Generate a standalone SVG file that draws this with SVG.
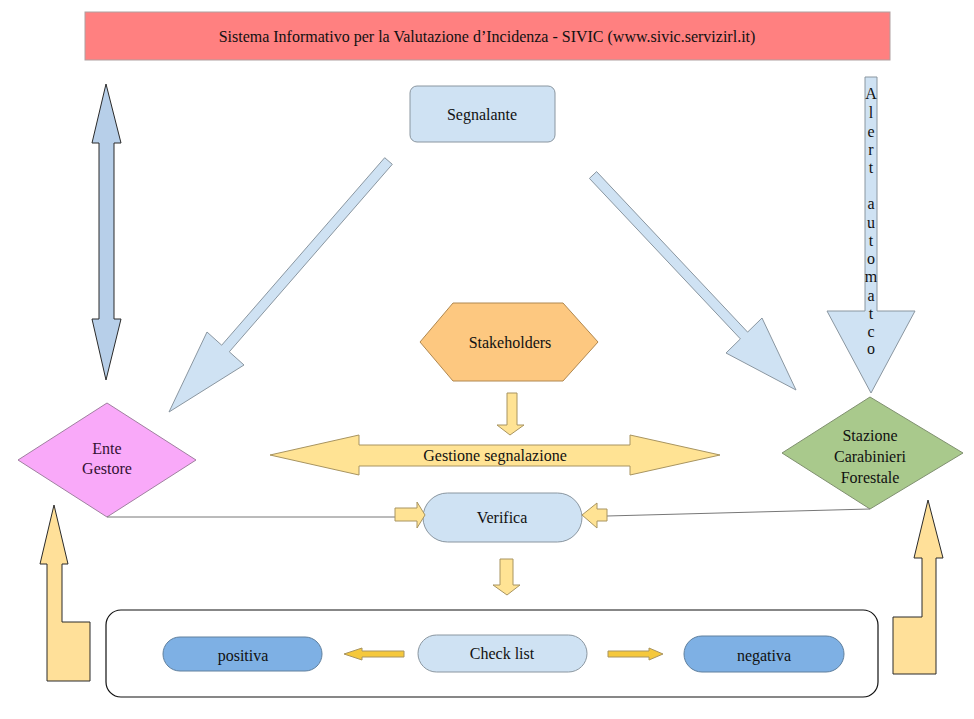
<svg xmlns="http://www.w3.org/2000/svg" width="974" height="719" viewBox="0 0 974 719">
<style>
text{font-family:'Liberation Serif','DejaVu Serif','Times New Roman',serif;font-size:16px;fill:#111;text-anchor:middle;dominant-baseline:central}
.lb{fill:#cfe2f3;stroke:#8a96a0;stroke-width:1}
.dk{fill:#b7cfe9;stroke:#2a2a2a;stroke-width:1}
.yl{fill:#ffe394;stroke:#a89460;stroke-width:1}
.yd{fill:#ffe099;stroke:#2a2a2a;stroke-width:1}
.ys{fill:#f5c83c;stroke:#a89460;stroke-width:1}
.mb{fill:#7eb0e4;stroke:#60809e;stroke-width:1}
.ln{fill:none;stroke:#777;stroke-width:1}
</style>
<rect width="974" height="719" fill="#fff"/>
<g id="banner">
<rect x="85" y="12" width="805" height="48" fill="#ff8080" stroke="#b0a0a0"/>
<text x="487" y="36" font-family="Liberation Serif, serif">Sistema Informativo per la Valutazione d’Incidenza - SIVIC (www.sivic.servizirl.it)</text>
</g>
<g id="segnalante">
<rect x="410" y="86" width="145" height="56" rx="7" class="lb"/>
<text x="482" y="114" font-family="Liberation Serif, serif">Segnalante</text>
</g>
<g id="stakeholders">
<polygon points="420,342 453,303 563,303 598,342 563,381 453,381" fill="#fdc880" stroke="#b08850"/>
<text x="510" y="342" font-family="Liberation Serif, serif">Stakeholders</text>
</g>
<g id="ente-gestore">
<polygon points="18,460 107,403 196,460 107,517" fill="#f9a9f9" stroke="#a080a0"/>
<text x="107" y="448" font-family="Liberation Serif, serif" style="fill:#331133">Ente</text>
<text x="107" y="468" font-family="Liberation Serif, serif" style="fill:#331133">Gestore</text>
</g>
<g id="stazione">
<polygon points="782,453 870,397 963,453 870,509" fill="#a9c98c" stroke="#809070"/>
<text x="870" y="435" font-family="Liberation Serif, serif">Stazione</text>
<text x="870" y="456" font-family="Liberation Serif, serif">Carabinieri</text>
<text x="870" y="477" font-family="Liberation Serif, serif">Forestale</text>
</g>
<g id="gestione">
<polygon points="270,455 359,435 359,445 630,445 630,435 720,455 630,475 630,466 359,466 359,475" class="yl"/>
<text x="495" y="455" font-family="Liberation Serif, serif">Gestione segnalazione</text>
</g>
<g id="verifica">
<rect x="423" y="493" width="159" height="49" rx="24.5" class="lb"/>
<text x="502" y="517" font-family="Liberation Serif, serif">Verifica</text>
</g>
<g id="checklist-box">
<rect x="106" y="610" width="772" height="87" rx="15" fill="none" stroke="#111" stroke-width="1.2"/>
</g>
<g id="positiva">
<rect x="163" y="637" width="159" height="34" rx="17" class="mb"/>
<text x="243" y="655" font-family="Liberation Serif, serif">positiva</text>
</g>
<g id="checklist">
<rect x="418" y="635" width="169" height="37" rx="18.5" class="lb"/>
<text x="502" y="653" font-family="Liberation Serif, serif">Check list</text>
</g>
<g id="negativa">
<rect x="684" y="636" width="160" height="36" rx="18" class="mb"/>
<text x="764" y="655" font-family="Liberation Serif, serif">negativa</text>
</g>
<g id="alert">
<polygon points="865,77 877,77 877,311 915,311 871,393 827,311 865,311" class="lb"/>
<g font-family="Liberation Serif, serif" style="font-size:16px">
<text x="871" y="93">A</text>
<text x="871" y="112">l</text>
<text x="871" y="131">e</text>
<text x="871" y="149">r</text>
<text x="871" y="167">t</text>
<text x="871" y="203">a</text>
<text x="871" y="222">u</text>
<text x="871" y="240">t</text>
<text x="871" y="258">o</text>
<text x="871" y="276">m</text>
<text x="871" y="295">a</text>
<text x="871" y="313">t</text>
<text x="871" y="331">c</text>
<text x="871" y="348">o</text>
</g>
</g>
<g id="connectors">
<polyline points="107,517 395,517" class="ln"/>
<polyline points="607,516 870,509" class="ln"/>
<polygon points="106,84 121,143 114,143 114,319 121,319 106,380 92,319 99,319 99,143 92,143" class="dk"/>
<polygon points="384.7,157.7 392.3,164.3 229.3,351.8 244,365 169,412 207,332 221.7,345.2" class="lb"/>
<polygon points="596.6,171.6 747.6,332.1 762,318 796,390 726,353 740.4,338.9 589.4,178.4" class="lb"/>
<polygon points="507,393 517,393 517,425 524,425 510,435 497,425 507,425" class="yl"/>
<polygon points="395,508 417,508 417,502 425,515 417,528 417,521 395,521" class="yl"/>
<polygon points="607,509 597,509 597,503 582,515 597,528 597,521 607,521" class="yl"/>
<polygon points="500,559 513,559 513,585 520,585 507,595 493,585 500,585" class="yl"/>
<polygon points="404,651 362,651 362,648 344,654 362,660 362,657 404,657" class="ys"/>
<polygon points="608,651 649,651 649,648 663,654 649,660 649,657 608,657" class="ys"/>
<polygon points="54,505 68,564 62,564 62,622 90,622 90,681 47,681 47,564 40,564" class="yd"/>
<polygon points="928,500 943,558 936,558 936,674 893,674 893,617 922,617 922,558 914,558" class="yd"/>
</g>
</svg>
